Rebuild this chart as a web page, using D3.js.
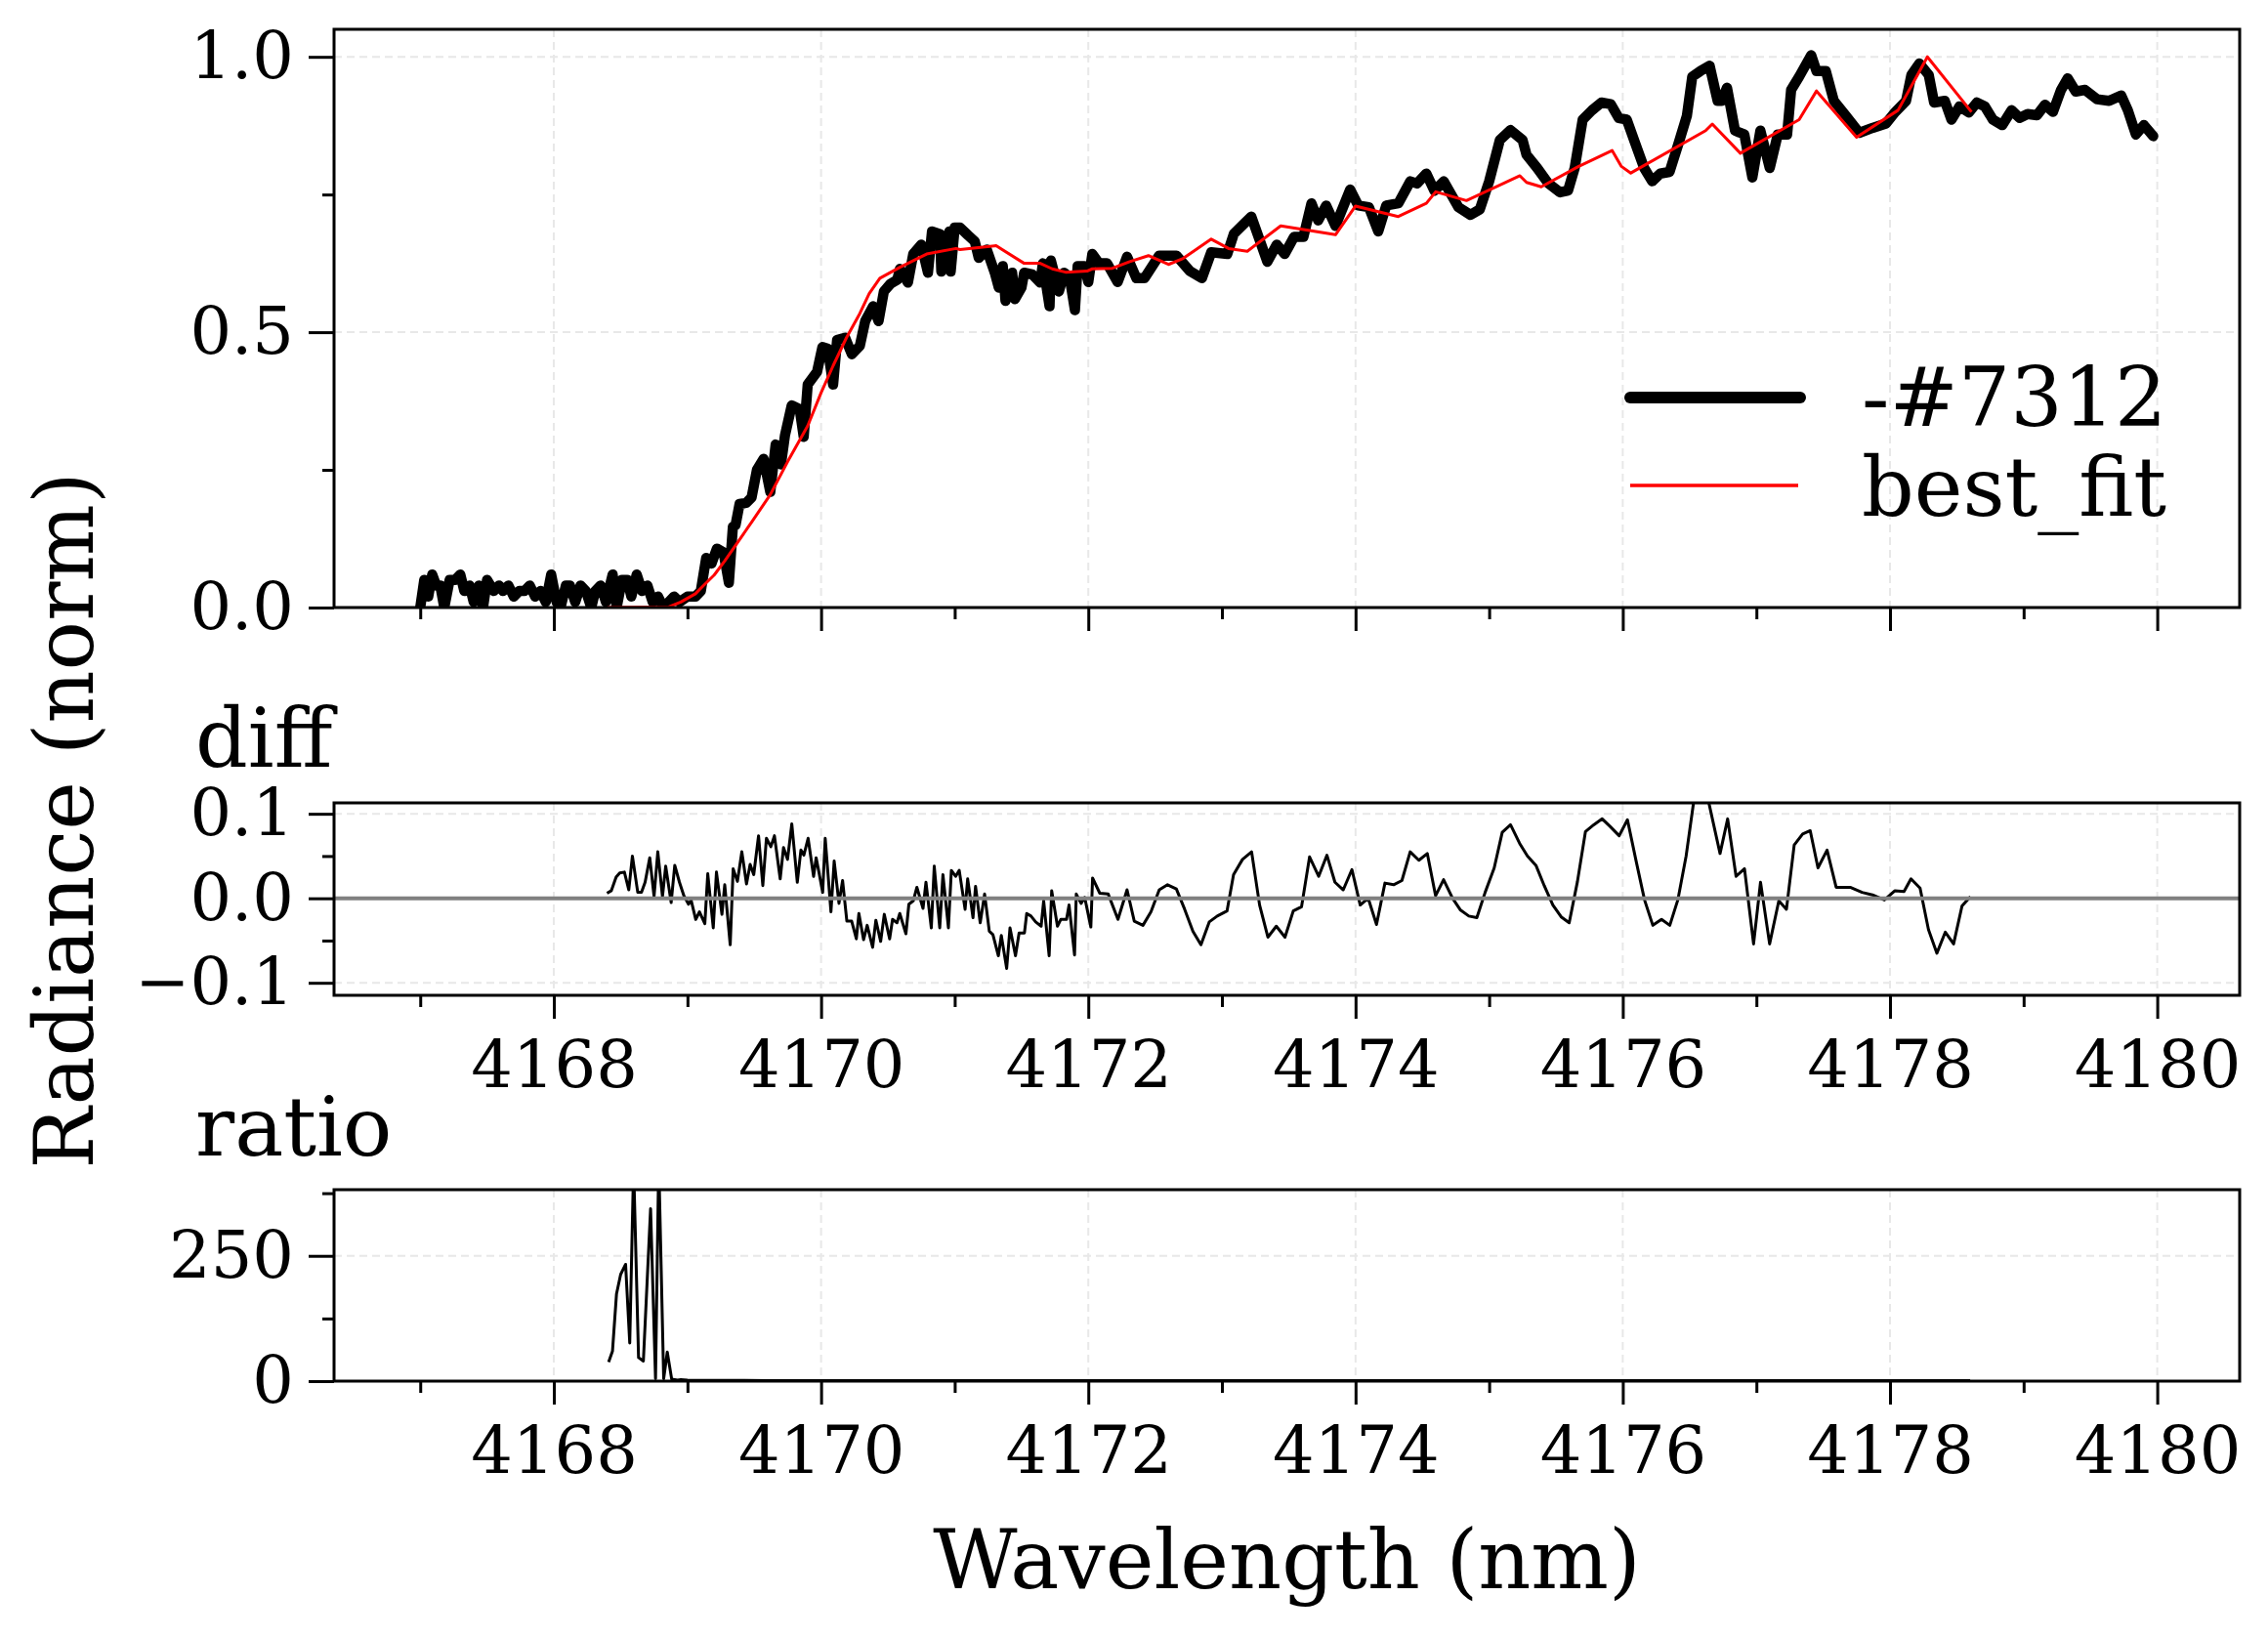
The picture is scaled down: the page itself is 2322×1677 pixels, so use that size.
<!DOCTYPE html>
<html>
<head>
<meta charset="utf-8">
<script src="https://cdn.jsdelivr.net/npm/d3@7"></script>
<style>
  body { margin: 0; background: #fff; }
  svg { display: block; font-family: "DejaVu Serif", serif; }
  .grid { stroke: #e8e8e8; stroke-width: 2; stroke-dasharray: 8,5; }
</style>
</head>
<body>
<svg id="chart" width="2322" height="1677"></svg>
<script>
// measured spectrum (normalised radiance), [wavelength, value]
const observed = [
  [4167.00,0.00],[4167.03,0.05],[4167.06,0.02],[4167.09,0.06],[4167.12,0.04],[4167.15,0.04],[4167.18,0.00],
  [4167.22,0.05],[4167.26,0.05],[4167.30,0.06],[4167.33,0.03],[4167.37,0.04],[4167.40,0.01],[4167.44,0.04],
  [4167.47,0.00],[4167.50,0.05],[4167.55,0.03],[4167.59,0.04],[4167.62,0.03],[4167.66,0.04],[4167.70,0.02],
  [4167.74,0.03],[4167.78,0.03],[4167.82,0.04],[4167.86,0.02],[4167.90,0.03],[4167.94,0.01],[4167.98,0.06],
  [4168.02,0.01],[4168.05,0.00],[4168.09,0.04],[4168.12,0.04],[4168.16,0.01],[4168.20,0.04],[4168.24,0.03],
  [4168.28,0.00],[4168.31,0.03],[4168.35,0.04],[4168.39,0.01],[4168.44,0.06],[4168.47,0.00],[4168.51,0.05],
  [4168.55,0.05],[4168.58,0.02],[4168.62,0.06],[4168.66,0.03],[4168.70,0.04],[4168.74,0.01],[4168.78,0.02],
  [4168.82,0.00],[4168.86,0.01],[4168.90,0.02],[4168.94,0.01],[4169.00,0.02],[4169.06,0.02],[4169.10,0.03],
  [4169.14,0.09],[4169.18,0.08],[4169.22,0.107],[4169.27,0.10],[4169.31,0.045],[4169.34,0.147],[4169.36,0.15],
  [4169.39,0.188],[4169.44,0.19],[4169.48,0.20],[4169.52,0.25],[4169.57,0.27],[4169.62,0.21],[4169.66,0.296],
  [4169.70,0.26],[4169.73,0.313],[4169.78,0.367],[4169.84,0.36],[4169.87,0.31],[4169.90,0.405],[4169.97,0.428],
  [4170.01,0.473],[4170.05,0.47],[4170.09,0.405],[4170.12,0.486],[4170.18,0.49],[4170.23,0.46],[4170.29,0.475],
  [4170.33,0.52],[4170.39,0.547],[4170.43,0.52],[4170.47,0.574],[4170.52,0.588],[4170.57,0.595],[4170.59,0.615],
  [4170.65,0.59],[4170.69,0.642],[4170.75,0.659],[4170.80,0.608],[4170.83,0.683],[4170.89,0.678],[4170.90,0.61],
  [4170.96,0.683],[4170.97,0.61],[4171.00,0.69],[4171.04,0.69],[4171.10,0.676],[4171.15,0.665],[4171.18,0.635],
  [4171.24,0.65],[4171.30,0.608],[4171.33,0.581],[4171.36,0.62],[4171.38,0.557],[4171.43,0.608],[4171.45,0.56],
  [4171.50,0.581],[4171.52,0.608],[4171.58,0.605],[4171.64,0.59],[4171.66,0.625],[4171.71,0.547],[4171.72,0.63],
  [4171.78,0.574],[4171.82,0.608],[4171.86,0.60],[4171.90,0.54],[4171.92,0.62],[4171.97,0.62],[4172.00,0.591],
  [4172.03,0.642],[4172.08,0.625],[4172.14,0.625],[4172.22,0.591],[4172.29,0.637],[4172.36,0.598],[4172.42,0.598],
  [4172.53,0.639],[4172.66,0.639],[4172.76,0.611],[4172.85,0.598],[4172.92,0.645],[4173.04,0.642],[4173.09,0.679],
  [4173.22,0.71],[4173.34,0.628],[4173.41,0.659],[4173.47,0.642],[4173.54,0.673],[4173.61,0.673],[4173.67,0.734],
  [4173.72,0.703],[4173.78,0.73],[4173.85,0.693],[4173.96,0.759],[4174.02,0.73],[4174.10,0.727],[4174.17,0.683],
  [4174.23,0.73],[4174.32,0.734],[4174.41,0.774],[4174.46,0.77],[4174.53,0.788],[4174.59,0.757],[4174.66,0.774],
  [4174.77,0.727],[4174.86,0.713],[4174.93,0.723],[4175.00,0.774],[4175.08,0.849],[4175.16,0.867],[4175.25,0.849],
  [4175.28,0.822],[4175.36,0.798],[4175.44,0.771],[4175.53,0.754],[4175.59,0.757],[4175.64,0.798],[4175.70,0.886],
  [4175.77,0.903],[4175.84,0.917],[4175.91,0.914],[4175.97,0.889],[4176.03,0.886],[4176.09,0.845],[4176.16,0.798],
  [4176.22,0.774],[4176.28,0.788],[4176.35,0.791],[4176.42,0.845],[4176.48,0.893],[4176.52,0.964],[4176.58,0.974],
  [4176.65,0.984],[4176.71,0.92],[4176.74,0.92],[4176.78,0.944],[4176.84,0.866],[4176.91,0.859],[4176.97,0.781],
  [4177.03,0.866],[4177.10,0.798],[4177.16,0.859],[4177.23,0.859],[4177.26,0.94],[4177.32,0.964],[4177.41,1.003],
  [4177.45,0.974],[4177.52,0.974],[4177.58,0.92],[4177.67,0.893],[4177.77,0.862],[4177.87,0.871],[4177.97,0.879],
  [4178.04,0.90],[4178.12,0.92],[4178.16,0.967],[4178.22,0.988],[4178.29,0.967],[4178.33,0.917],[4178.41,0.92],
  [4178.46,0.886],[4178.52,0.91],[4178.59,0.899],[4178.65,0.917],[4178.71,0.91],[4178.77,0.886],[4178.84,0.876],
  [4178.91,0.903],[4178.97,0.889],[4179.03,0.896],[4179.10,0.894],[4179.16,0.913],[4179.22,0.90],[4179.28,0.94],
  [4179.33,0.961],[4179.39,0.937],[4179.46,0.94],[4179.55,0.923],[4179.64,0.92],[4179.73,0.93],[4179.78,0.903],
  [4179.84,0.859],[4179.90,0.876],[4179.97,0.856]
];

// best fit model
const bestFit = [
  [4168.40,0.000],[4168.86,0.001],[4168.95,0.010],[4169.06,0.025],[4169.12,0.040],[4169.20,0.059],[4169.28,0.085],
  [4169.36,0.113],[4169.48,0.155],[4169.62,0.205],[4169.75,0.265],[4169.90,0.330],[4170.00,0.390],[4170.09,0.439],
  [4170.19,0.490],[4170.29,0.534],[4170.36,0.570],[4170.44,0.598],[4170.59,0.618],[4170.79,0.642],[4171.01,0.652],
  [4171.04,0.650],[4171.31,0.657],[4171.52,0.625],[4171.64,0.625],[4171.73,0.615],[4171.83,0.609],[4171.99,0.611],
  [4172.03,0.615],[4172.18,0.616],[4172.31,0.628],[4172.45,0.639],[4172.60,0.623],[4172.71,0.634],[4172.92,0.669],
  [4173.05,0.652],[4173.19,0.647],[4173.44,0.693],[4173.85,0.677],[4174.00,0.729],[4174.32,0.710],[4174.53,0.734],
  [4174.60,0.755],[4174.83,0.739],[4175.23,0.784],[4175.28,0.772],[4175.39,0.764],[4175.67,0.801],[4175.92,0.830],
  [4175.99,0.801],[4176.06,0.789],[4176.62,0.866],[4176.67,0.878],[4176.88,0.825],[4177.32,0.886],[4177.45,0.938],
  [4177.75,0.854],[4178.06,0.903],[4178.28,1.000],[4178.61,0.900]
];

// observed - fit
const diffValues = [
  [4168.398,0.006],[4168.430,0.009],[4168.466,0.025],[4168.493,0.030],[4168.528,0.031],[4168.561,0.010],
  [4168.588,0.050],[4168.628,0.007],[4168.656,0.007],[4168.683,0.019],[4168.718,0.048],[4168.750,0.002],
  [4168.778,0.055],[4168.813,0.002],[4168.837,0.038],[4168.878,-0.005],[4168.905,0.039],[4168.940,0.019],
  [4168.973,0.003],[4169.008,-0.007],[4169.027,-0.002],[4169.062,-0.025],[4169.090,-0.016],[4169.130,-0.030],
  [4169.152,0.029],[4169.193,-0.035],[4169.217,0.031],[4169.258,-0.019],[4169.279,0.016],[4169.320,-0.055],
  [4169.342,0.035],[4169.374,0.020],[4169.407,0.055],[4169.442,0.017],[4169.469,0.040],[4169.496,0.028],
  [4169.532,0.074],[4169.564,0.015],[4169.591,0.071],[4169.624,0.061],[4169.651,0.074],[4169.694,0.023],
  [4169.719,0.060],[4169.749,0.046],[4169.781,0.088],[4169.822,0.019],[4169.849,0.057],[4169.871,0.051],
  [4169.903,0.071],[4169.944,0.026],[4169.963,0.048],[4169.985,0.030],[4170.012,0.007],[4170.031,0.071],
  [4170.074,-0.016],[4170.098,0.044],[4170.134,-0.006],[4170.161,0.021],[4170.193,-0.027],[4170.229,-0.027],
  [4170.264,-0.048],[4170.283,-0.018],[4170.318,-0.049],[4170.345,-0.032],[4170.386,-0.058],[4170.410,-0.026],
  [4170.446,-0.051],[4170.473,-0.019],[4170.513,-0.048],[4170.535,-0.025],[4170.568,-0.029],[4170.589,-0.018],
  [4170.635,-0.042],[4170.657,-0.007],[4170.690,-0.003],[4170.717,0.013],[4170.763,-0.012],[4170.785,0.019],
  [4170.825,-0.035],[4170.847,0.038],[4170.888,-0.035],[4170.912,0.028],[4170.953,-0.035],[4170.975,0.033],
  [4171.007,0.026],[4171.034,0.033],[4171.078,-0.013],[4171.097,0.023],[4171.137,-0.023],[4171.156,0.014],
  [4171.191,-0.029],[4171.224,0.005],[4171.259,-0.039],[4171.286,-0.043],[4171.327,-0.068],[4171.349,-0.044],
  [4171.389,-0.083],[4171.414,-0.035],[4171.455,-0.068],[4171.482,-0.041],[4171.522,-0.041],[4171.539,-0.018],
  [4171.571,-0.021],[4171.606,-0.028],[4171.647,-0.033],[4171.666,-0.003],[4171.707,-0.068],[4171.726,0.009],
  [4171.769,-0.033],[4171.794,-0.025],[4171.837,-0.025],[4171.856,-0.008],[4171.897,-0.067],[4171.910,0.005],
  [4171.946,-0.006],[4171.973,0.001],[4172.019,-0.034],[4172.032,0.024],[4172.086,0.006],[4172.149,0.005],
  [4172.222,-0.025],[4172.290,0.010],[4172.344,-0.027],[4172.409,-0.032],[4172.469,-0.016],[4172.531,0.010],
  [4172.593,0.016],[4172.659,0.011],[4172.721,-0.013],[4172.783,-0.039],[4172.843,-0.055],[4172.905,-0.028],
  [4172.965,-0.021],[4173.038,-0.015],[4173.087,0.028],[4173.154,0.046],[4173.222,0.055],[4173.282,-0.008],
  [4173.344,-0.046],[4173.407,-0.033],[4173.472,-0.046],[4173.534,-0.015],[4173.596,-0.010],[4173.656,0.049],
  [4173.724,0.026],[4173.786,0.051],[4173.846,0.019],[4173.908,0.010],[4173.973,0.034],[4174.035,-0.008],
  [4174.095,0.000],[4174.157,-0.031],[4174.220,0.018],[4174.285,0.016],[4174.347,0.021],[4174.409,0.055],
  [4174.474,0.045],[4174.537,0.053],[4174.599,0.003],[4174.659,0.022],[4174.726,0.000],[4174.786,-0.014],
  [4174.848,-0.021],[4174.908,-0.023],[4174.970,0.007],[4175.038,0.036],[4175.098,0.078],[4175.160,0.087],
  [4175.228,0.065],[4175.287,0.050],[4175.350,0.039],[4175.412,0.015],[4175.477,-0.008],[4175.539,-0.022],
  [4175.599,-0.029],[4175.661,0.020],[4175.721,0.079],[4175.783,0.087],[4175.846,0.094],[4175.905,0.085],
  [4175.973,0.074],[4176.035,0.093],[4176.100,0.044],[4176.163,-0.002],[4176.225,-0.032],[4176.290,-0.025],
  [4176.352,-0.032],[4176.412,-0.002],[4176.474,0.050],[4176.534,0.118],[4176.580,0.124],[4176.640,0.116],
  [4176.728,0.053],[4176.785,0.094],[4176.848,0.026],[4176.911,0.035],[4176.979,-0.054],[4177.031,0.019],
  [4177.099,-0.054],[4177.168,-0.003],[4177.225,-0.013],[4177.283,0.063],[4177.346,0.076],[4177.403,0.080],
  [4177.461,0.036],[4177.529,0.057],[4177.597,0.013],[4177.702,0.013],[4177.791,0.007],[4177.869,0.004],
  [4177.958,-0.002],[4178.037,0.009],[4178.105,0.008],[4178.157,0.023],[4178.225,0.012],[4178.288,-0.037],
  [4178.351,-0.065],[4178.414,-0.040],[4178.476,-0.054],[4178.539,-0.009],[4178.602,0.002]
];

// observed / fit
const ratioValues = [
  [4168.410,38],[4168.439,60],[4168.469,174],[4168.500,213],[4168.537,233],[4168.568,76],[4168.597,430],
  [4168.634,47],[4168.670,40],[4168.724,344],[4168.761,5],[4168.785,440],[4168.822,5],[4168.849,58],
  [4168.882,4],[4168.926,2],[4168.95,3],[4169.0,2],[4169.1,1.5],[4169.3,1.3],[4169.6,1.2],[4170.0,1.1],
  [4171.0,1.0],[4172.0,1.0],[4173.0,1.0],[4174.0,1.0],[4175.0,1.0],[4176.0,1.0],[4177.0,1.0],[4178.0,1.0],
  [4178.6,1.0]
];

const xMajor = [4168, 4170, 4172, 4174, 4176, 4178, 4180];
const xMinor = [4167, 4169, 4171, 4173, 4175, 4177, 4179];
const topYMajor = [0, 0.5, 1.0];
const topYMinor = [0.25, 0.75];
const diffYMajor = [-0.1, 0, 0.1];
const diffYMinor = [-0.05, 0.05];
const ratioYMajor = [0, 250];
const ratioYMinor = [125, 375];
const legendLabels = ["-#7312", "best_fit"];

const svg = d3.select("#chart");
const left = 342, right = 2293;
const x = d3.scaleLinear().domain([4166.355, 4180.617]).range([left, right]);

function makePanel(name, top, bottom, yDomain, yMajor, yMinor, yFmt, showXLabels) {
  const y = d3.scaleLinear().domain(yDomain).range([bottom, top]);
  const g = svg.append("g");

  svg.append("defs").append("clipPath").attr("id", "clip-" + name)
    .append("rect").attr("x", left).attr("y", top)
    .attr("width", right - left).attr("height", bottom - top);

  // grid
  g.append("g").selectAll("line").data(xMajor).join("line")
    .attr("class", "grid")
    .attr("x1", d => x(d)).attr("x2", d => x(d))
    .attr("y1", top).attr("y2", bottom);
  g.append("g").selectAll("line").data(yMajor).join("line")
    .attr("class", "grid")
    .attr("x1", left).attr("x2", right)
    .attr("y1", d => y(d)).attr("y2", d => y(d));

  // x axis
  const xAx = g.append("g").attr("transform", `translate(0,${bottom})`)
    .call(d3.axisBottom(x).tickValues(xMajor).tickSize(24).tickSizeOuter(0).tickPadding(22)
      .tickFormat(showXLabels ? d3.format("d") : ""));
  const xAxMinor = g.append("g").attr("transform", `translate(0,${bottom})`)
    .call(d3.axisBottom(x).tickValues(xMinor).tickSize(12).tickSizeOuter(0).tickFormat(""));

  // y axis
  const yAx = g.append("g").attr("transform", `translate(${left},0)`)
    .call(d3.axisLeft(y).tickValues(yMajor).tickSize(26).tickSizeOuter(0).tickPadding(15).tickFormat(yFmt));
  const yAxMinor = g.append("g").attr("transform", `translate(${left},0)`)
    .call(d3.axisLeft(y).tickValues(yMinor).tickSize(12).tickSizeOuter(0).tickFormat(""));

  [xAx, xAxMinor, yAx, yAxMinor].forEach(a => {
    a.select(".domain").remove();
    a.selectAll(".tick line").attr("stroke", "#000").attr("stroke-width", 3);
    a.selectAll(".tick text").attr("fill", "#000")
      .style("font-family", "'DejaVu Serif', serif").style("font-size", "67px");
  });

  const plot = g.append("g").attr("clip-path", `url(#clip-${name})`);
  return { g, plot, y, top, bottom };
}

function frame(p) {
  p.g.append("rect").attr("x", left).attr("y", p.top)
    .attr("width", right - left).attr("height", p.bottom - p.top)
    .attr("fill", "none").attr("stroke", "#000").attr("stroke-width", 3);
}

// top panel
const p1 = makePanel("main", 30, 622, [0, 1.05], topYMajor, topYMinor, d3.format(".1f"), false);
const line1 = d3.line().x(d => x(d[0])).y(d => p1.y(d[1]));
p1.plot.append("path").datum(observed).attr("d", line1)
  .attr("fill", "none").attr("stroke", "#000").attr("stroke-width", 10.5)
  .attr("stroke-linejoin", "round").attr("stroke-linecap", "round");
p1.plot.append("path").datum(bestFit).attr("d", line1)
  .attr("fill", "none").attr("stroke", "#ff0000").attr("stroke-width", 3)
  .attr("stroke-linejoin", "round");
frame(p1);

// legend
const legend = svg.append("g");
legend.append("line").attr("x1", 1669).attr("x2", 1843).attr("y1", 407).attr("y2", 407)
  .attr("stroke", "#000").attr("stroke-width", 12).attr("stroke-linecap", "round");
legend.append("line").attr("x1", 1669).attr("x2", 1841).attr("y1", 497).attr("y2", 497)
  .attr("stroke", "#ff0000").attr("stroke-width", 3.5);
legend.selectAll("text").data(legendLabels).join("text")
  .attr("x", 1906).attr("y", (d, i) => i === 0 ? 436 : 528)
  .style("font-size", "84px").attr("fill", "#000").text(d => d);

// diff panel
const p2 = makePanel("diff", 822, 1019, [-0.1148, 0.1129], diffYMajor, diffYMinor, d3.format(".1f"), true);
const line2 = d3.line().x(d => x(d[0])).y(d => p2.y(d[1]));
p2.plot.append("path").datum(diffValues).attr("d", line2)
  .attr("fill", "none").attr("stroke", "#000").attr("stroke-width", 3)
  .attr("stroke-linejoin", "round");
p2.plot.append("line").attr("x1", left).attr("x2", right)
  .attr("y1", p2.y(0)).attr("y2", p2.y(0))
  .attr("stroke", "#808080").attr("stroke-width", 4);
frame(p2);

// ratio panel
const p3 = makePanel("ratio", 1218, 1414, [0, 382], ratioYMajor, ratioYMinor, d3.format("d"), true);
const line3 = d3.line().x(d => x(d[0])).y(d => p3.y(d[1]));
p3.plot.append("path").datum(ratioValues).attr("d", line3)
  .attr("fill", "none").attr("stroke", "#000").attr("stroke-width", 3)
  .attr("stroke-linejoin", "round");
frame(p3);

// titles and labels
svg.append("text").attr("x", 200).attr("y", 785).style("font-size", "84px").text("diff");
svg.append("text").attr("x", 200).attr("y", 1183).style("font-size", "84px").text("ratio");
svg.append("text").attr("x", (left + right) / 2).attr("y", 1626).attr("text-anchor", "middle")
  .style("font-size", "84px").text("Wavelength (nm)");
svg.append("text").attr("transform", "translate(95,840) rotate(-90)").attr("text-anchor", "middle")
  .style("font-size", "84px").text("Radiance (norm)");
</script>
</body>
</html>
